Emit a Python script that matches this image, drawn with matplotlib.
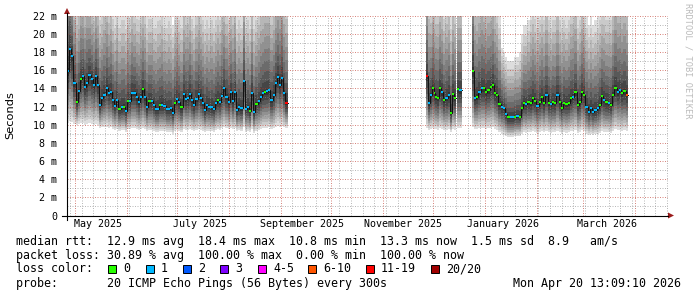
import datetime as dt

import matplotlib
matplotlib.use("Agg")
import matplotlib.dates as mdates
import matplotlib.pyplot as plt
import numpy as np
from matplotlib.lines import Line2D
from matplotlib.patches import Polygon, Rectangle
from matplotlib.ticker import FixedLocator

W, H = 697, 297
MONO = "DejaVu Sans Mono"

# ---------------- data ----------------
x_start = "2025-04-26 05:00"
x_end = "2026-04-20 13:09"

# segment 1: late April .. early September 2025
seg1_span = ("2025-04-26 05:00", "2025-09-05 02:00")
seg1_median = [15.9, 18.3, 17.6, 14.6, 12.5, 13.7, 15.0, 15.4, 14.2, 14.6,
               15.5, 15.0, 14.4, 15.4, 14.4, 12.2, 12.9, 13.3, 14.1, 13.5,
               13.6, 12.7, 12.1, 12.7, 11.7, 11.9, 12.0, 11.5, 12.6, 12.6,
               13.5, 13.5, 13.0, 12.5, 13.1, 13.9, 13.0, 11.9, 12.6, 12.6,
               12.2, 11.7, 11.7, 12.2, 12.2, 12.1, 11.7, 11.7, 11.8, 11.3,
               12.4, 12.8, 12.5, 11.9, 13.4, 12.8, 12.9, 13.4, 12.7, 12.2,
               12.8, 13.4, 12.9, 12.4, 11.6, 12.2, 12.0, 11.9, 11.7, 12.4,
               12.7, 12.5, 13.2, 14.0, 13.1, 12.5, 13.6, 12.6, 13.6, 11.6,
               12.0, 11.8, 14.8, 11.7, 11.9, 11.5, 13.5, 11.4, 12.3, 12.6,
               13.1, 13.5, 13.6, 13.7, 13.8, 12.7, 13.3, 14.6, 15.3, 14.4,
               15.2, 13.5, 12.4]
seg1_loss = [1, 1, 1, 1, 0, 1, 0, 1, 1, 1,
             1, 1, 1, 1, 1, 1, 1, 1, 1, 1,
             1, 1, 1, 1, 0, 1, 0, 1, 0, 1,
             1, 1, 1, 1, 1, 0, 1, 1, 0, 1,
             1, 1, 1, 0, 1, 1, 1, 1, 1, 1,
             0, 1, 1, 0, 1, 1, 1, 1, 1, 1,
             1, 1, 1, 1, 1, 1, 1, 1, 1, 1,
             0, 1, 1, 1, 1, 1, 1, 1, 1, 1,
             1, 1, 1, 1, 1, 0, 1, 1, 0, 1,
             1, 1, 0, 1, 1, 1, 1, 1, 1, 1,
             1, 1, 15]
seg1_high = [34, 36, 30, 26, 24, 25, 27, 26, 25, 27,
             26, 25, 24, 26, 25, 23, 24, 25, 26, 24,
             25, 23, 22, 24, 22, 23, 23, 22, 24, 23,
             25, 24, 23, 23, 24, 25, 24, 22, 23, 23,
             22, 22, 23, 23, 24, 22, 22, 23, 22, 21,
             23, 24, 23, 22, 25, 24, 24, 25, 23, 22,
             24, 25, 24, 23, 22, 23, 22, 23, 22, 23,
             24, 23, 25, 26, 24, 23, 25, 24, 26, 22,
             23, 22, 28, 22, 23, 22, 25, 22, 23, 24,
             25, 25, 26, 26, 26, 24, 25, 27, 28, 27,
             28, 26, 25]
seg1_low = [10.2, 10.4, 10.3, 10.1, 10.0, 10.1, 10.2, 10.2, 10.0, 10.1,
            10.2, 10.1, 10.0, 10.1, 10.0, 9.6, 9.7, 9.8, 9.8, 9.6,
            9.7, 9.5, 9.4, 9.5, 9.3, 9.4, 9.4, 9.2, 9.5, 9.5,
            9.6, 9.6, 9.5, 9.4, 9.5, 9.6, 9.5, 9.3, 9.4, 9.4,
            9.3, 9.2, 9.2, 9.3, 9.3, 9.3, 9.2, 9.2, 9.2, 9.0,
            9.3, 9.4, 9.3, 9.2, 9.5, 9.4, 9.4, 9.5, 9.4, 9.3,
            9.4, 9.5, 9.4, 9.3, 9.2, 9.3, 9.3, 9.3, 9.2, 9.4,
            9.5, 9.4, 9.6, 9.7, 9.6, 9.5, 9.6, 9.5, 9.6, 9.3,
            9.4, 9.3, 9.7, 9.2, 9.3, 9.2, 9.5, 9.1, 9.3, 9.4,
            9.5, 9.6, 9.6, 9.6, 9.7, 9.5, 9.6, 9.8, 9.9, 9.8,
            9.9, 9.7, 9.6]

# segment 2: end of November .. mid December 2025
seg2_span = ("2025-11-27 00:00", "2025-12-14 14:00")
seg2_median = [15.4, 12.4, 13.3, 14.1, 13.5, 13.1, 12.9, 14.0, 13.6, 12.7,
               12.9, 12.9, 13.3, 11.3, 13.4, 12.9]
seg2_loss = [15, 1, 1, 0, 0, 0, 0, 0, 1, 0, 1, 1, 1, 0, 0, 0]
seg2_high = [30, 25, 24, 26, 25, 24, 24, 26, 25, 23, 24, 24, 25, 22, 25, 24]
seg2_low = [9.6, 9.4, 9.5, 9.6, 9.5, 9.5, 9.4, 9.6, 9.5, 9.4,
            9.4, 9.4, 9.5, 9.2, 9.5, 9.4]

# segment 3: a few days in mid December 2025
seg3_span = ("2025-12-15 05:00", "2025-12-18 05:00")
seg3_median = [13.9, 13.8]
seg3_loss = [0, 1]
seg3_high = [25, 25]
seg3_low = [9.6, 9.6]

# segment 4: Christmas 2025 .. end of March 2026
seg4_span = ("2025-12-24 05:00", "2026-03-27 12:00")
seg4_median = [15.9, 12.9, 13.1, 13.6, 14.0, 14.0, 13.6, 13.8, 14.2, 14.4,
               13.5, 13.3, 12.3, 12.0, 11.8, 11.2, 10.8, 10.8, 10.8, 10.9,
               11.0, 10.9, 11.8, 12.4, 12.3, 12.5, 12.4, 12.9, 12.6, 12.1,
               12.5, 13.0, 12.4, 13.3, 12.4, 12.3, 12.5, 12.4, 13.3, 12.5,
               11.8, 12.4, 12.3, 12.4, 12.9, 13.1, 13.6, 12.2, 12.5, 13.6,
               13.3, 12.0, 11.4, 11.8, 11.4, 11.6, 11.8, 12.2, 13.2, 12.7,
               12.5, 12.4, 12.2, 13.3, 14.1, 13.6, 13.8, 13.5, 13.7, 13.3]
seg4_loss = [0, 1, 0, 1, 1, 0, 0, 0, 0, 0,
             0, 0, 0, 1, 1, 1, 0, 1, 1, 0,
             1, 0, 0, 0, 1, 0, 0, 0, 0, 1,
             0, 0, 0, 1, 0, 1, 0, 0, 1, 0,
             0, 0, 0, 0, 0, 1, 0, 0, 0, 0,
             0, 1, 1, 1, 1, 1, 1, 0, 0, 1,
             0, 1, 0, 0, 0, 1, 1, 0, 0, 7]
seg4_high = [35, 26, 25, 26, 27, 26, 25, 26, 26, 27,
             25, 24, 22, 18.5, 18, 17.5, 17, 17, 17, 17.5,
             17.5, 18, 20, 21, 21, 21.5, 23, 24, 23, 22,
             23, 24, 23, 25, 23, 22, 23, 23, 25, 23,
             22, 23, 22, 23, 24, 24, 25, 22, 23, 25,
             24, 22, 21, 22, 21, 21.5, 22, 23, 24, 24,
             23, 23, 23, 25, 27, 26, 26, 25, 26, 25]
seg4_low = [9.7, 9.5, 9.5, 9.6, 9.6, 9.6, 9.5, 9.6, 9.6, 9.7,
            9.5, 9.4, 9.2, 9.0, 8.9, 8.8, 8.7, 8.7, 8.7, 8.8,
            8.8, 8.8, 9.0, 9.2, 9.1, 9.2, 9.2, 9.3, 9.2, 9.1,
            9.2, 9.3, 9.2, 9.3, 9.2, 9.1, 9.2, 9.2, 9.3, 9.2,
            9.0, 9.2, 9.1, 9.2, 9.3, 9.3, 9.4, 9.1, 9.2, 9.4,
            9.3, 9.0, 8.9, 9.0, 8.9, 9.0, 9.0, 9.1, 9.3, 9.2,
            9.2, 9.2, 9.1, 9.3, 9.5, 9.4, 9.4, 9.3, 9.4, 9.3]

# loss colour classes (upper bound of pings lost, colour, legend label)
loss_bounds = [0, 1, 2, 3, 5, 10, 19, 20]
loss_colors = ["#26ff00", "#00b8ff", "#0059ff", "#7e00ff",
               "#ff00ff", "#ff5500", "#ff0000", "#a00000"]
loss_labels = ["0", "1", "2", "3", "4-5", "6-10", "11-19", "20/20"]

y_ticks = [0, 2, 4, 6, 8, 10, 12, 14, 16, 18, 20, 22]
month_labels = ["May 2025", "July 2025", "September 2025",
                "November 2025", "January 2026", "March 2026"]
month_label_dates = ["2025-05-15", "2025-07-15", "2025-09-14",
                     "2025-11-13", "2026-01-12", "2026-03-15"]

legend_rows = [
    "median rtt:  12.9 ms avg  18.4 ms max  10.8 ms min  13.3 ms now  1.5 ms sd  8.9   am/s",
    "packet loss: 30.89 % avg  100.00 % max  0.00 % min  100.00 % now",
]
loss_title = "loss color:"
probe_text = "probe:       20 ICMP Echo Pings (56 Bytes) every 300s"
stamp_text = "Mon Apr 20 13:09:10 2026"

N_PINGS = 20


def fx(px):
    return px / W


def fy(py):
    return 1 - py / H


def to_num(s):
    return mdates.date2num(dt.datetime.fromisoformat(s))


def loss_color(n):
    for bound, col in zip(loss_bounds, loss_colors):
        if n <= bound:
            return col
    return loss_colors[-1]


def sorted_pings(med, lo, hi):
    # spread the 20 pings of each step between min, median and max
    u = (np.arange(N_PINGS) - (N_PINGS - 1) / 2) / ((N_PINGS - 1) / 2)
    up = med[:, None] + (hi - med)[:, None] * np.clip(u, 0, None) ** 1.3
    dn = med[:, None] - (med - lo)[:, None] * np.clip(-u, 0, None) ** 0.8
    return np.where(u > 0, up, dn)


def draw_segment(ax, span, median, loss, high, low):
    med = np.array(median, float)
    n = len(med)
    edges = np.linspace(to_num(span[0]), to_num(span[1]), n + 1)
    p = sorted_pings(med, np.array(low, float), np.array(high, float))
    half = N_PINGS // 2

    # smoke bands, darker towards the median
    for i in range(1, N_PINGS):
        level = int(190 / half * abs(half - i)) + 50
        grey = "#%02x%02x%02x" % (level, level, level)
        y0 = np.append(p[:, i - 1], p[-1, i - 1])
        y1 = np.append(p[:, i], p[-1, i])
        ax.fill_between(edges, y0, y1, step="post", color=grey, lw=0,
                        antialiased=False, zorder=1)

    # median line and loss coloured marks
    ax.step(edges, np.append(med, med[-1]), where="post", color="#111111",
            lw=0.7, zorder=3)
    ax.hlines(med, edges[:-1], edges[1:], colors=[loss_color(v) for v in loss],
              lw=1.5, zorder=4, capstyle="butt")


fig = plt.figure(figsize=(W / 100, H / 100), dpi=100, facecolor="white")
ax = fig.add_axes([fx(67), fy(215.5), fx(668) - fx(67), fy(15.8) - fy(215.5)])

draw_segment(ax, seg1_span, seg1_median, seg1_loss, seg1_high, seg1_low)
draw_segment(ax, seg2_span, seg2_median, seg2_loss, seg2_high, seg2_low)
draw_segment(ax, seg3_span, seg3_median, seg3_loss, seg3_high, seg3_low)
draw_segment(ax, seg4_span, seg4_median, seg4_loss, seg4_high, seg4_low)

ax.set_xlim(to_num(x_start), to_num(x_end))
ax.set_ylim(0, 22)

# grid (dotted, drawn over the smoke like rrdtool does)
ax.yaxis.set_major_locator(FixedLocator(y_ticks))
ax.yaxis.set_minor_locator(FixedLocator(range(1, 22, 2)))
ax.xaxis.set_major_locator(mdates.MonthLocator())
ax.xaxis.set_minor_locator(mdates.WeekdayLocator(byweekday=mdates.MO))
ax.set_axisbelow("line")
ax.grid(which="minor", color="#8c8c8c", alpha=0.6, lw=0.72, ls=(0, (1, 1.5)))
ax.grid(which="major", color="#c0392b", alpha=0.6, lw=0.72, ls=(0, (1, 1.5)))

ax.set_yticklabels([("%d m" % v) if v else "0" for v in y_ticks],
                   family=MONO, fontsize=7.2)
ax.set_xticklabels([])
ax.tick_params(which="both", length=0, pad=7)
for side in ax.spines:
    ax.spines[side].set_visible(False)

for lbl, d in zip(month_labels, month_label_dates):
    ax.text(to_num(d), -0.045, lbl, transform=ax.get_xaxis_transform(),
            ha="center", va="center", family=MONO, fontsize=7.2)

# axes with arrows
fig.add_artist(Line2D([fx(62), fx(668)], [fy(215.5), fy(215.5)], color="black", lw=0.8))
fig.add_artist(Line2D([fx(67), fx(67)], [fy(220), fy(13)], color="black", lw=0.8))
fig.add_artist(Polygon([(fx(64), fy(14)), (fx(70), fy(14)), (fx(67), fy(8))],
                       closed=True, color="#9b1c1c", lw=0))
fig.add_artist(Polygon([(fx(668), fy(212.5)), (fx(668), fy(218.5)), (fx(674), fy(215.5))],
                       closed=True, color="#9b1c1c", lw=0))

# side texts
fig.text(fx(10), fy(115), "Seconds", rotation=90, ha="center", va="center",
         family="DejaVu Sans", fontsize=8.2)
fig.text(fx(688), fy(61), "RRDTOOL / TOBI OETIKER", rotation=270, ha="center",
         va="center", family=MONO, fontsize=6.2, color="#bbbbbb")

# legend block
for row, py in zip(legend_rows, [241, 255]):
    fig.text(fx(16), fy(py), row, ha="left", va="center", family=MONO, fontsize=8.4)
fig.text(fx(16), fy(269), loss_title, ha="left", va="center", family=MONO, fontsize=8.4)
box_x = [108, 146, 183, 220, 258, 308, 366, 431]
for bx, col, lbl in zip(box_x, loss_colors, loss_labels):
    fig.add_artist(Rectangle((fx(bx), fy(273)), fx(8), 8 / H, facecolor=col,
                             edgecolor="black", lw=0.7))
    fig.text(fx(bx + 15), fy(269), lbl, ha="left", va="center", family=MONO, fontsize=8.4)
fig.text(fx(16), fy(283), probe_text, ha="left", va="center", family=MONO, fontsize=8.4)
fig.text(fx(681), fy(283), stamp_text, ha="right", va="center", family=MONO, fontsize=8.4)

fig.savefig("out.png", dpi=100, facecolor="white")
